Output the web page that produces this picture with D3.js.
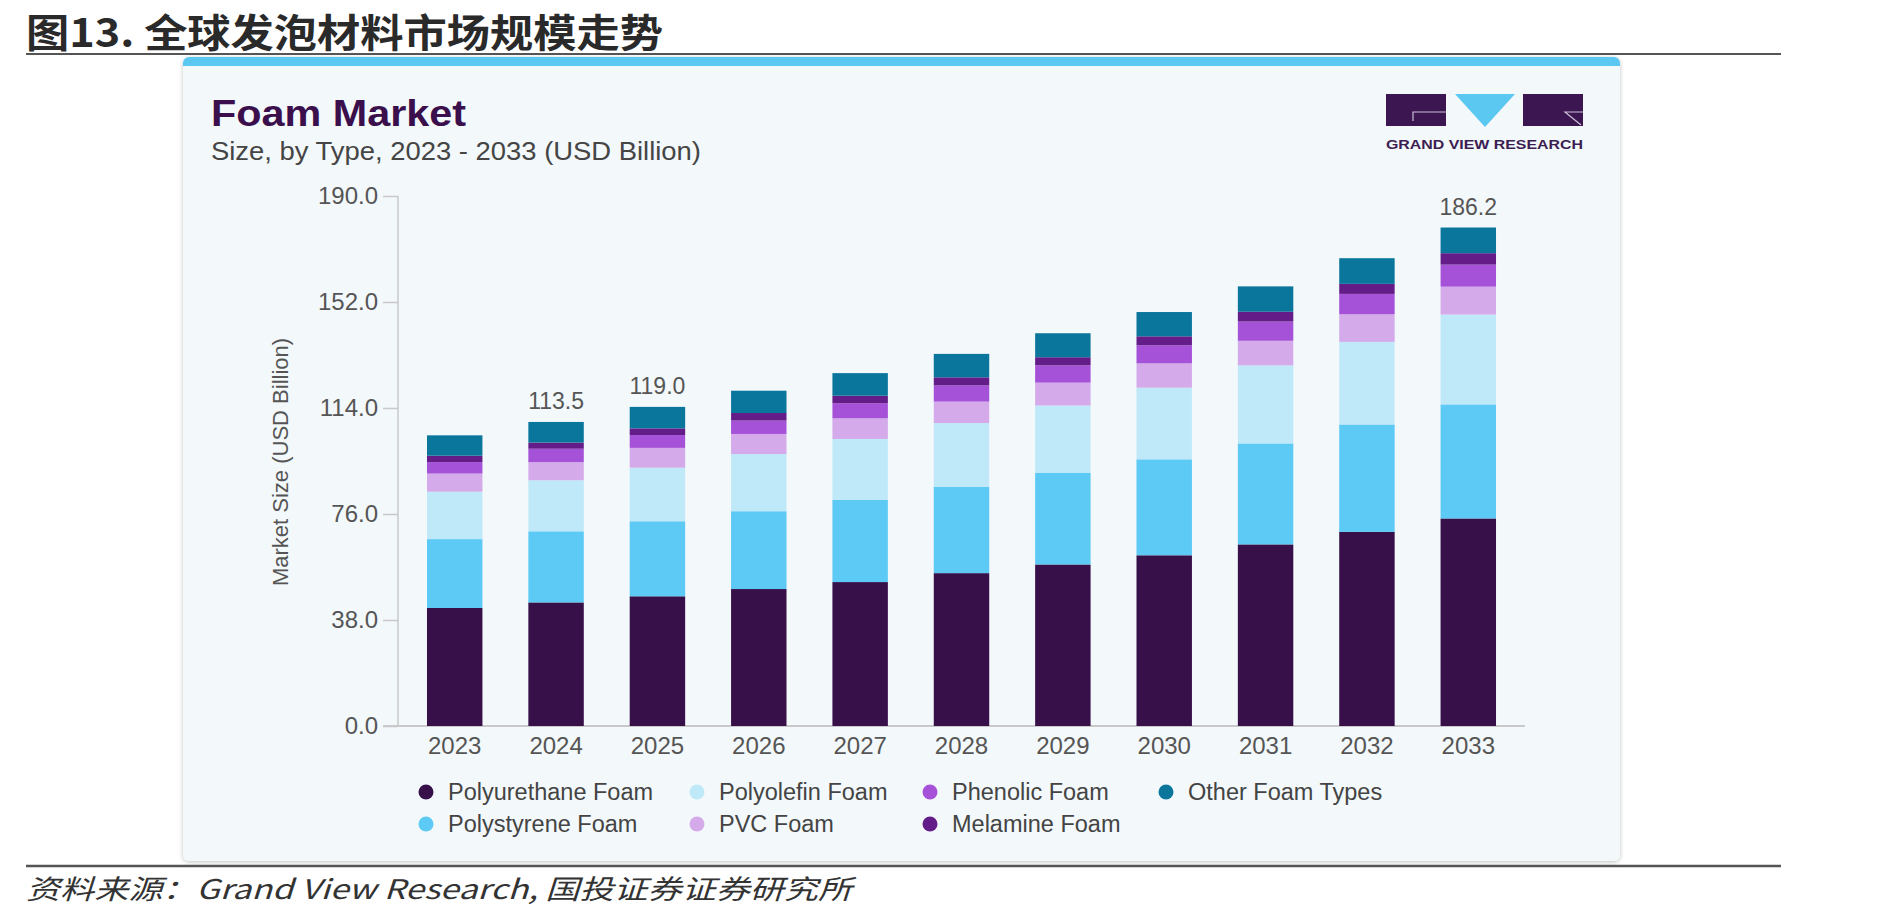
<!DOCTYPE html>
<html>
<head>
<meta charset="utf-8">
<script src="https://cdn.jsdelivr.net/npm/d3@7"></script>
<style>
  body { margin: 0; background: #ffffff; }
  text { font-family: "Liberation Sans", Arial, sans-serif; }
</style>
</head>
<body>
<div id="vis"></div>
<script>
// data (USD Billion)
var years = ["2023", "2024", "2025", "2026", "2027", "2028", "2029", "2030", "2031", "2032", "2033"];
var polyurethane = [42.3, 44.3, 46.5, 49.1, 51.6, 54.8, 57.9, 61.2, 65.1, 69.6, 74.4];
var polystyrene = [24.7, 25.5, 26.9, 27.9, 29.5, 31.0, 32.8, 34.4, 36.2, 38.5, 40.9];
var polyolefin = [17.0, 18.3, 19.2, 20.5, 21.8, 22.8, 24.2, 25.7, 28.0, 29.6, 32.2];
var pvc = [6.5, 6.5, 7.1, 7.2, 7.4, 7.7, 8.2, 8.7, 8.8, 9.9, 10.0];
var phenolic = [4.1, 4.8, 4.6, 4.8, 5.4, 5.8, 6.2, 6.5, 6.9, 7.3, 7.9];
var melamine = [2.3, 2.2, 2.4, 2.7, 2.7, 2.9, 2.9, 3.2, 3.5, 3.6, 4.1];
var otherTypes = [7.3, 7.4, 7.7, 8.0, 8.1, 8.4, 8.6, 8.7, 9.1, 9.2, 9.2];

var seriesNames = ["Polyurethane Foam", "Polystyrene Foam", "Polyolefin Foam", "PVC Foam",
  "Phenolic Foam", "Melamine Foam", "Other Foam Types"];
var yTicks = [0, 38, 76, 114, 152, 190];
var labelYears = ["2024", "2025", "2033"];
var labelTexts = ["113.5", "119.0", "186.2"];

const SERIES_COLOR = ["#37104a", "#5ccaf5", "#bfe9f8", "#d4aaea", "#a551d8", "#641c88", "#0b769c"];

var width = 1889;
var height = 919;
var svg;

function init() {
  svg = d3.select("#vis").append("svg")
    .attr("width", width)
    .attr("height", height);

  svg.append("rect").attr("width", width).attr("height", height).attr("fill", "#ffffff");

  // page title + rules
  svg.append("text")
    .attr("x", 26).attr("y", 47)
    .attr("textLength", 637).attr("lengthAdjust", "spacingAndGlyphs")
    .style("font-family", "'Noto Sans CJK SC', sans-serif")
    .style("font-weight", "bold").style("font-size", "39px")
    .attr("fill", "#2a2a2a")
    .text("图13. 全球发泡材料市场规模走势");

  svg.append("line").attr("x1", 26).attr("x2", 1781).attr("y1", 54).attr("y2", 54)
    .attr("stroke", "#555").attr("stroke-width", 2);
  svg.append("line").attr("x1", 26).attr("x2", 1781).attr("y1", 866).attr("y2", 866)
    .attr("stroke", "#555").attr("stroke-width", 2.5);

  svg.append("text")
    .attr("x", 26).attr("y", 899)
    .attr("textLength", 826).attr("lengthAdjust", "spacingAndGlyphs")
    .style("font-family", "'Noto Sans CJK SC', sans-serif")
    .style("font-style", "italic").style("font-size", "27px")
    .attr("fill", "#333")
    .text("资料来源：Grand View Research, 国投证券证券研究所");

  // card
  var defs = svg.append("defs");
  var f = defs.append("filter").attr("id", "shadow").attr("x", "-5%").attr("y", "-5%")
    .attr("width", "110%").attr("height", "110%");
  f.append("feDropShadow").attr("dx", 0).attr("dy", 1).attr("stdDeviation", 2)
    .attr("flood-color", "#000").attr("flood-opacity", 0.25);
  defs.append("clipPath").attr("id", "cardclip")
    .append("rect").attr("x", 183).attr("y", 57).attr("width", 1437).attr("height", 804).attr("rx", 6);

  svg.append("rect").attr("x", 183).attr("y", 57).attr("width", 1437).attr("height", 804)
    .attr("rx", 6).attr("fill", "#f3f8fb").attr("filter", "url(#shadow)");
  svg.append("rect").attr("x", 183).attr("y", 57).attr("width", 1437).attr("height", 9)
    .attr("fill", "#5bc8f1").attr("clip-path", "url(#cardclip)");

  svg.append("text").attr("x", 211).attr("y", 126)
    .attr("textLength", 255).attr("lengthAdjust", "spacingAndGlyphs")
    .style("font-size", "37px").style("font-weight", "900")
    .attr("fill", "#3a0f4c").text("Foam Market");
  svg.append("text").attr("x", 211).attr("y", 160)
    .attr("textLength", 490).attr("lengthAdjust", "spacingAndGlyphs")
    .style("font-size", "25px").attr("fill", "#454545")
    .text("Size, by Type, 2023 - 2033 (USD Billion)");

  // logo
  var logo = svg.append("g");
  logo.append("rect").attr("x", 1386).attr("y", 94).attr("width", 60).attr("height", 32).attr("fill", "#3b1650");
  logo.append("path").attr("d", "M1455,94 L1515,94 L1485,127 Z").attr("fill", "#5bc8f1");
  logo.append("rect").attr("x", 1523).attr("y", 94).attr("width", 60).attr("height", 32).attr("fill", "#3b1650");
  logo.append("path").attr("d", "M1446,112 L1413,112 L1413,121").attr("fill", "none")
    .attr("stroke", "#cbbfd6").attr("stroke-width", 1.2);
  logo.append("path").attr("d", "M1583,112 L1565,112 L1581,125").attr("fill", "none")
    .attr("stroke", "#cbbfd6").attr("stroke-width", 1.2);
  logo.append("text").attr("x", 1386).attr("y", 149)
    .attr("textLength", 197).attr("lengthAdjust", "spacingAndGlyphs")
    .style("font-size", "12px").style("font-weight", "bold")
    .attr("fill", "#3b1d52").text("GRAND VIEW RESEARCH");

  update();
}

function update() {
  var allSeries = [polyurethane, polystyrene, polyolefin, pvc, phenolic, melamine, otherTypes];
  var rows = years.map(function (y, i) {
    var row = { year: y };
    seriesNames.forEach(function (name, k) { row[name] = allSeries[k][i]; });
    return row;
  });
  var stacked = d3.stack().keys(seriesNames)(rows);

  var x0 = 398, x1 = 1525, yBottom = 726, yTop = 196;

  var xScale = d3.scaleBand().domain(years).range([x0, x1])
    .paddingInner(0.453).paddingOuter(0.286);
  var yScale = d3.scaleLinear().domain([0, 190]).range([yBottom, yTop]);

  var g = svg.append("g");

  // y axis
  var yAxis = g.append("g")
    .attr("transform", "translate(" + x0 + ",0)")
    .call(d3.axisLeft(yScale).tickValues(yTicks).tickFormat(d3.format(".1f"))
      .tickSize(15).tickPadding(5));
  yAxis.select(".domain").attr("stroke", "#c9c9c9").attr("stroke-width", 1.5)
    .attr("d", "M0," + yTop + "V" + yBottom);
  yAxis.selectAll(".tick line").attr("stroke", "#c9c9c9").attr("stroke-width", 1.5);
  yAxis.selectAll(".tick text").attr("fill", "#555")
    .style("font-size", "24px").style("font-family", "'Liberation Sans', Arial, sans-serif");

  // x axis
  var xAxis = g.append("g")
    .attr("transform", "translate(0," + yBottom + ")")
    .call(d3.axisBottom(xScale).tickSize(0).tickPadding(11));
  xAxis.select(".domain").attr("stroke", "#c9c9c9").attr("stroke-width", 2)
    .attr("d", "M" + (x0 - 15) + ",0H" + x1);
  xAxis.selectAll(".tick text").attr("fill", "#555")
    .style("font-size", "24px").style("font-family", "'Liberation Sans', Arial, sans-serif");

  g.append("text")
    .attr("transform", "translate(288,462) rotate(-90)")
    .attr("text-anchor", "middle")
    .style("font-size", "22px").attr("fill", "#555")
    .text("Market Size (USD Billion)");

  // bars
  g.selectAll(".layer")
    .data(stacked)
    .enter()
    .append("g")
    .attr("class", "layer")
    .attr("fill", function (d, i) { return SERIES_COLOR[i]; })
    .selectAll("rect")
    .data(function (d) { return d; })
    .enter()
    .append("rect")
    .attr("x", function (d) { return xScale(d.data.year); })
    .attr("y", function (d) { return yScale(d[1]); })
    .attr("width", xScale.bandwidth())
    .attr("height", function (d) { return yScale(d[0]) - yScale(d[1]); });

  // total labels
  var top = stacked[stacked.length - 1];
  labelYears.forEach(function (yr, i) {
    var idx = years.indexOf(yr);
    g.append("text")
      .attr("x", xScale(yr) + xScale.bandwidth() / 2)
      .attr("y", yScale(top[idx][1]) - 13)
      .attr("text-anchor", "middle")
      .style("font-size", "23px").attr("fill", "#555")
      .text(labelTexts[i]);
  });

  // legend
  var legendX = [426, 697, 930, 1166];
  var legendY = [792, 824];
  var legendOrder = [0, 2, 4, 6, 1, 3, 5];
  legendOrder.forEach(function (k, j) {
    var col = j < 4 ? j : j - 4;
    var row = j < 4 ? 0 : 1;
    var lg = g.append("g").attr("transform", "translate(" + legendX[col] + "," + legendY[row] + ")");
    lg.append("circle").attr("r", 7.5).attr("fill", SERIES_COLOR[k]);
    lg.append("text").attr("x", 22).attr("y", 0).attr("dy", "0.35em")
      .style("font-size", "23.5px").attr("fill", "#444")
      .text(seriesNames[k]);
  });
}

init();
</script>
</body>
</html>
